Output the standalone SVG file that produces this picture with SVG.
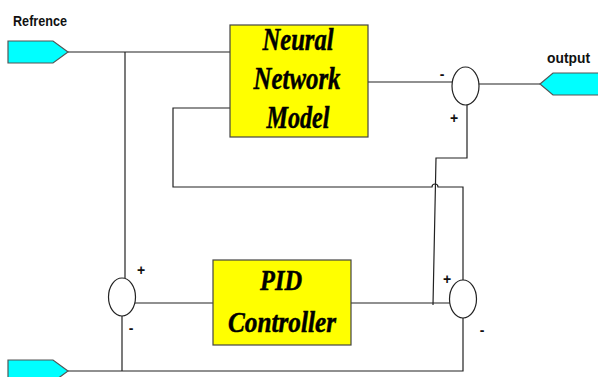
<svg xmlns="http://www.w3.org/2000/svg" width="598" height="377" viewBox="0 0 598 377">
<style>
.w{fill:none;stroke:#222;stroke-width:1.2}
.sj{fill:#fff;stroke:#222;stroke-width:1.2}
.blk{fill:#ffff00;stroke:#444;stroke-width:1.2}
.port{fill:#00ffff;stroke:#555;stroke-width:1.2}
.bt{font-family:"Liberation Serif","Times New Roman",serif;font-weight:bold;font-style:italic;fill:#000;stroke:#000;stroke-width:0.5;text-anchor:middle}
.lb{font-family:"Liberation Sans",Arial,sans-serif;font-weight:bold;fill:#111}
.sg{font-family:"Liberation Sans",Arial,sans-serif;font-weight:bold;font-size:14px;fill:#111;text-anchor:middle}
</style>
<rect width="598" height="377" fill="#fff"/>
<g id="connectors">
<path class="w" d="M68,52 H230"/>
<path class="w" d="M125,52 V278"/>
<path class="w" d="M230,108 H173 V187 H432 a3,3 0 0 1 6,0 H463 V280"/>
<path class="w" d="M368,82 H452"/>
<path class="w" d="M479,84 H540"/>
<path class="w" d="M467,105 V158 H436 L433,305"/>
<path class="w" d="M135,303 H213"/>
<path class="w" d="M351,303 H450"/>
<path class="w" d="M463,318 V371 H68"/>
<path class="w" d="M122,316 V371"/>
</g>
<g id="ref-in">
<polygon class="port" points="8,41 53,41 68,52 53,63 8,63"/>
<text class="lb" x="13" y="26" font-size="14.5" textLength="54" lengthAdjust="spacingAndGlyphs">Refrence</text>
</g>
<g id="bottom-in">
<polygon class="port" points="8,360 53,360 68,371 53,382 8,382"/>
</g>
<g id="output">
<polygon class="port" points="540,84 553,73 600,73 600,95 553,95"/>
<text class="lb" x="547" y="63" font-size="14.5" textLength="43" lengthAdjust="spacingAndGlyphs">output</text>
</g>
<g id="nn-model">
<rect class="blk" x="230" y="25" width="138" height="112"/>
<text class="bt" x="298" y="50" font-size="32" textLength="71" lengthAdjust="spacingAndGlyphs">Neural</text>
<text class="bt" x="297" y="89" font-size="32" textLength="87" lengthAdjust="spacingAndGlyphs">Network</text>
<text class="bt" x="298" y="128" font-size="32" textLength="63" lengthAdjust="spacingAndGlyphs">Model</text>
</g>
<g id="pid">
<rect class="blk" x="213" y="260" width="138" height="85"/>
<text class="bt" x="281" y="290" font-size="30" textLength="42" lengthAdjust="spacingAndGlyphs">PID</text>
<text class="bt" x="282" y="332" font-size="30" textLength="108" lengthAdjust="spacingAndGlyphs">Controller</text>
</g>
<g id="sum-top">
<ellipse class="sj" cx="465.5" cy="86" rx="13.5" ry="19"/>
<text class="sg" x="442" y="79">-</text>
<text class="sg" x="454" y="123">+</text>
</g>
<g id="sum-left">
<ellipse class="sj" cx="122" cy="297" rx="13.5" ry="19"/>
<text class="sg" x="141" y="275">+</text>
<text class="sg" x="131" y="333">-</text>
</g>
<g id="sum-right">
<ellipse class="sj" cx="463" cy="299" rx="13.5" ry="19"/>
<text class="sg" x="447" y="284">+</text>
<text class="sg" x="482" y="335">-</text>
</g>
</svg>
